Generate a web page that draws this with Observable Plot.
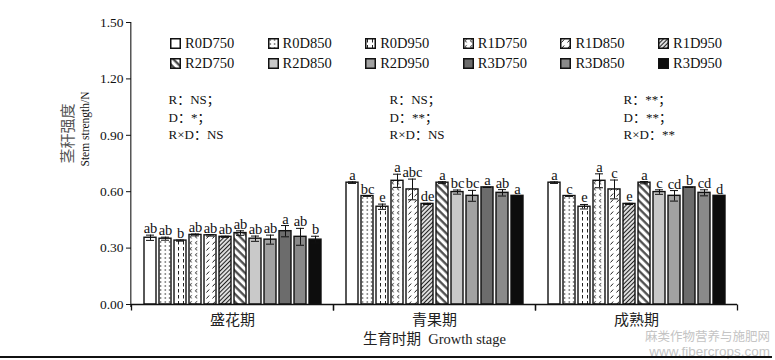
<!DOCTYPE html>
<html>
<head>
<meta charset="utf-8">
<script src="https://cdn.jsdelivr.net/npm/d3@7"></script>
<script src="https://cdn.jsdelivr.net/npm/@observablehq/plot@0.6"></script>
<style>
  html, body { margin: 0; padding: 0; background: #fff; }
  #wrap { position: relative; width: 775px; height: 360px; background: #fff; overflow: hidden; }
  #legend { position: absolute; left: 170px; top: 33px; display: grid; grid-template-columns: repeat(6, 97.6px); grid-auto-rows: 20px;
            font-family: 'Liberation Serif', serif; font-size: 14.5px; color: #111; }
  #legend .item { display: flex; align-items: center; gap: 4px; }
  #legend svg { display: block; }
  #wm { position: absolute; right: 5px; top: 328px; text-align: right; color: #c4c4c4; font-family: 'Noto Sans CJK SC', 'Liberation Sans', sans-serif; font-size: 12.5px; line-height: 15px; }
  #bottomline { position: absolute; left: 0; width: 772px; top: 356px; height: 2px; background: #111; }
  #chart g[aria-label="fx-axis tick label"] { font-family: 'Noto Sans CJK SC', sans-serif; font-size: 15px; fill: #222; }
  #chart g[aria-label="y-axis tick label"] { font-size: 13.5px; }
</style>
</head>
<body>
<div id="wrap">
  <div id="chart"></div>
  <div id="legend"></div>
  <div id="wm">麻类作物营养与施肥网<br><span style="font-family:'Liberation Sans',sans-serif;font-size:13.5px">www.fibercrops.com</span></div>
  <div id="bottomline"></div>
</div>
<script>
// ---------- data ----------
const stages = ["盛花期", "青果期", "成熟期"];
const treatments = ["R0D750","R0D850","R0D950","R1D750","R1D850","R1D950","R2D750","R2D850","R2D950","R3D750","R3D850","R3D950"];
const fills = ["#ffffff","url(#pR0D850)","url(#pR0D950)","url(#pR1D750)","url(#pR1D850)","url(#pR1D950)","url(#pR2D750)","#c9c9c9","#a2a2a2","#6c6c6c","#8a8a8a","#0d0d0d"];

const meanFlower = [0.355,0.350,0.340,0.370,0.368,0.360,0.380,0.350,0.345,0.390,0.360,0.345];
const errFlower  = [0.014,0.008,0.003,0.005,0.004,0.003,0.012,0.014,0.024,0.030,0.045,0.018];
const letFlower  = ["ab","ab","b","ab","ab","ab","ab","ab","ab","a","ab","b"];

const meanGreen = [0.648,0.577,0.520,0.658,0.612,0.535,0.648,0.598,0.578,0.623,0.594,0.578];
const errGreen  = [0.004,0.002,0.014,0.035,0.055,0.003,0.005,0.011,0.029,0.000,0.017,0.000];
const letGreen  = ["a","bc","e","a","abc","de","a","bc","bc","a","ab","a"];

const meanMature = [0.648,0.577,0.520,0.658,0.612,0.535,0.648,0.598,0.578,0.623,0.594,0.578];
const errMature  = [0.004,0.002,0.012,0.037,0.050,0.003,0.006,0.012,0.028,0.000,0.016,0.000];
const letMature  = ["a","c","e","a","c","e","a","c","cd","b","cd","d"];

const statR  = ["NS","NS","**"];
const statD  = ["*","**","**"];
const statRD = ["NS","NS","**"];

const yTicks = [0, 0.3, 0.6, 0.9, 1.2, 1.5];
const yTitleCN = "茎秆强度";
const yTitleEN = "Stem strength/N";
const xTitle = "生育时期  Growth stage";

// ---------- build table ----------
const series = [[meanFlower, errFlower, letFlower], [meanGreen, errGreen, letGreen], [meanMature, errMature, letMature]];
const rows = [];
stages.forEach((s, i) => {
  const [m, e, l] = series[i];
  treatments.forEach((t, j) => rows.push({stage: s, trt: t, mean: m[j], err: e[j], letter: l[j]}));
});
const stats = stages.map((s, i) => ({stage: s, text: `R：${statR[i]}；\nD：${statD[i]}；\nR×D：${statRD[i]}`}));

// ---------- layout ----------
const W = 775, H = 360, mL = 130, mR = 38, mT = 22, mB = 56;
const facetW = (W - mL - mR) / stages.length;
const axisW = 1.4;
const serif = "'Liberation Serif', 'Noto Sans CJK SC', serif";
const tickDown = { draw(ctx) { ctx.moveTo(0, 0); ctx.lineTo(0, 6); } };
const statDx = [37, 56, 88];

const chart = Plot.plot({
  width: W, height: H,
  marginLeft: mL, marginRight: mR, marginTop: mT, marginBottom: mB,
  style: {fontFamily: serif, fontSize: "13.5px", color: "#111", background: "#fff"},
  fx: {domain: stages, paddingInner: 0, paddingOuter: 0, label: null, axis: "bottom", tickSize: 0, tickPadding: 10},
  x: {domain: treatments, paddingInner: 0.2, paddingOuter: 0.8, axis: null},
  y: {domain: [0, 1.5], ticks: yTicks, tickFormat: d => d.toFixed(2), tickSize: 5, tickPadding: 3, label: null},
  color: {domain: treatments, range: fills},
  marks: [
    // y-axis line: a thin filled rect at the left edge of the first facet
    Plot.rect([{stage: stages[0]}], {fx: "stage", y1: () => 0, y2: () => 1.5, fill: "#111", insetLeft: -axisW / 2, insetRight: facetW - axisW / 2, insetBottom: -3}),
    Plot.barY(rows, {fx: "stage", x: "trt", y: "mean", fill: "trt", stroke: "#111", strokeWidth: 1.4}),
    Plot.ruleX(rows, {fx: "stage", x: "trt", y1: d => d.mean - d.err, y2: d => d.mean + d.err, stroke: "#111", strokeWidth: 1}),
    Plot.tickY(rows, {fx: "stage", x: "trt", y: d => d.mean + d.err, stroke: "#111", strokeWidth: 1, inset: 2}),
    Plot.tickY(rows, {fx: "stage", x: "trt", y: d => d.mean - d.err, stroke: "#111", strokeWidth: 1, inset: 2}),
    Plot.text(rows, {fx: "stage", x: "trt", y: d => d.mean + d.err, text: "letter", dy: -2, lineAnchor: "bottom", fontSize: 14.5, fill: "#111"}),
    Plot.ruleY([0], {stroke: "#111", strokeWidth: 1.3}),
    Plot.dot([0], {frameAnchor: "bottom-left", symbol: tickDown, stroke: "#111", strokeWidth: 1.3, fill: "none"}),
    Plot.dot([0], {frameAnchor: "bottom-right", symbol: tickDown, stroke: "#111", strokeWidth: 1.3, fill: "none"}),
    ...stats.map((st, i) => Plot.text([st], {fx: "stage", text: "text", frameAnchor: "top-left", textAnchor: "start", lineAnchor: "top", dx: statDx[i], dy: 69, lineHeight: 1.35, fontSize: 13, fill: "#111"})),
    Plot.text([{stage: stages[0]}], {fx: "stage", text: () => yTitleCN, frameAnchor: "left", rotate: -90, dx: -63, fontSize: 15, fill: "#555", fontFamily: "'Noto Sans CJK SC', sans-serif"}),
    Plot.text([{stage: stages[0]}], {fx: "stage", text: () => yTitleEN, frameAnchor: "left", rotate: -90, dx: -46, dy: 3, fontSize: 11.5, fill: "#111"}),
    Plot.text([{stage: stages[1]}], {fx: "stage", text: () => xTitle, frameAnchor: "bottom", dy: 39, fontSize: 14.5, fill: "#222"})
  ]
});

// ---------- hatch patterns ----------
const defs = `
<defs>
  <pattern id="pR0D850" patternUnits="userSpaceOnUse" width="4.5" height="4">
    <rect width="4.5" height="4" fill="#fff"/><circle cx="2.2" cy="2" r="0.75" fill="#222"/>
  </pattern>
  <pattern id="pR0D950" patternUnits="userSpaceOnUse" width="5" height="6">
    <rect width="5" height="6" fill="#fff"/><line x1="2.5" y1="1" x2="2.5" y2="4.5" stroke="#222" stroke-width="1"/>
  </pattern>
  <pattern id="pR1D750" patternUnits="userSpaceOnUse" width="5.5" height="6">
    <rect width="5.5" height="6" fill="#fff"/><path d="M3.8,1.2 L1.8,2.8 L3.8,4.4" fill="none" stroke="#222" stroke-width="0.9"/>
  </pattern>
  <pattern id="pR1D850" patternUnits="userSpaceOnUse" width="6" height="6">
    <rect width="6" height="6" fill="#fff"/><path d="M1.5,4.5 L4.2,1.5" fill="none" stroke="#222" stroke-width="1"/>
  </pattern>
  <pattern id="pR1D950" patternUnits="userSpaceOnUse" width="3" height="3" patternTransform="rotate(45)">
    <rect width="3" height="3" fill="#fff"/><line x1="1.5" y1="0" x2="1.5" y2="3" stroke="#222" stroke-width="1.3"/>
  </pattern>
  <pattern id="pR2D750" patternUnits="userSpaceOnUse" width="5.5" height="5.5" patternTransform="rotate(-45)">
    <rect width="5.5" height="5.5" fill="#fff"/><line x1="1.5" y1="0" x2="1.5" y2="5.5" stroke="#444" stroke-width="2.2"/>
  </pattern>
</defs>`;
chart.insertAdjacentHTML("afterbegin", defs);
document.getElementById("chart").appendChild(chart);

// ---------- legend ----------
const legend = document.getElementById("legend");
treatments.forEach((t, i) => {
  const item = document.createElement("div");
  item.className = "item";
  item.innerHTML = `<svg width="11" height="11"><rect x="0.75" y="0.75" width="9.5" height="9.5" fill="${fills[i]}" stroke="#111" stroke-width="1.5"/></svg><span>${t}</span>`;
  legend.appendChild(item);
});
</script>
</body>
</html>
